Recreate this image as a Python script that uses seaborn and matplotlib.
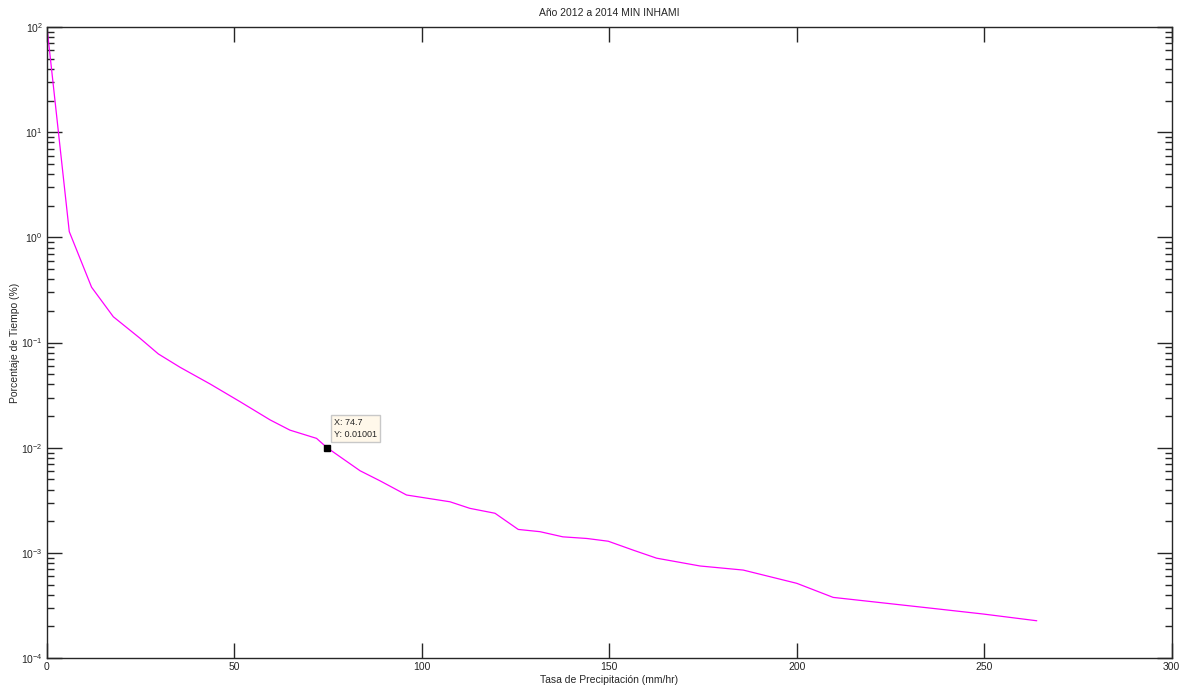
import matplotlib
matplotlib.use("Agg")
import matplotlib.pyplot as plt
from matplotlib.ticker import FixedLocator, LogFormatterSciNotation
import seaborn as sns
import pandas as pd

# Precipitation rate (mm/hr) and percentage of time exceeded
rate = [0, 5.95, 11.9, 17.7, 24.8, 29.7, 35.5, 43.5, 51.5, 59.5, 64.8, 71.9,
        74.7, 83.5, 88.8, 95.9, 107.5, 112.8, 119.5, 125.7, 131.5, 137.6,
        144.0, 149.7, 156.4, 162.6, 174.2, 185.7, 200.0, 209.7, 236.4,
        249.7, 264.0]
pct_time = [100, 1.135, 0.336, 0.176, 0.110, 0.078, 0.0582, 0.0404, 0.0274,
            0.0184, 0.0147, 0.01227, 0.01001, 0.00604, 0.00485, 0.00355,
            0.00306, 0.00265, 0.00238, 0.00167, 0.00159, 0.00142, 0.00137,
            0.00129, 0.00106, 0.00089, 0.00075, 0.000686, 0.000513,
            0.000377, 0.000296, 0.000262, 0.000226]

tip_x = 74.7
tip_y = 0.01001

x_ticks = [0, 50, 100, 150, 200, 250, 300]
y_ticks = [1e-4, 1e-3, 1e-2, 1e-1, 1e0, 1e1, 1e2]

title = "Año 2012 a 2014 MIN INHAMI"
x_label = "Tasa de Precipitación (mm/hr)"
y_label = "Porcentaje de Tiempo (%)"

sns.set_style("ticks")
plt.rcParams["font.family"] = ["Liberation Sans", "DejaVu Sans"]
plt.rcParams["mathtext.fontset"] = "custom"
plt.rcParams["mathtext.rm"] = "Liberation Sans"
plt.rcParams["mathtext.it"] = "Liberation Sans"
plt.rcParams["axes.unicode_minus"] = False

df = pd.DataFrame({"rate": rate, "pct": pct_time})

fig = plt.figure(figsize=(11.92, 6.89), dpi=100)
ax = fig.add_axes([0.0394, 0.045, 0.9436, 0.9156])

sns.lineplot(data=df, x="rate", y="pct", color="#FF00FF", lw=0.9, ax=ax,
             sort=False, estimator=None)

ax.set_yscale("log")
ax.set_xlim(0, 300)
ax.set_ylim(1e-4, 1e2)
ax.xaxis.set_major_locator(FixedLocator(x_ticks))
ax.yaxis.set_major_locator(FixedLocator(y_ticks))
ax.yaxis.set_major_formatter(LogFormatterSciNotation())
minor_y = [m * d for d in y_ticks[:-1] for m in range(2, 10)]
ax.yaxis.set_minor_locator(FixedLocator(minor_y))
ax.yaxis.set_minor_formatter(plt.NullFormatter())

for s in ax.spines.values():
    s.set_visible(True)
    s.set_color("#262626")
    s.set_linewidth(1.0)

ax.tick_params(axis="both", which="major", direction="in", length=11,
               width=1.0, color="#262626", labelsize=7.5, top=True,
               right=True, pad=3)
ax.tick_params(axis="y", which="minor", direction="in", length=5,
               width=1.0, color="#262626", right=True)
ax.tick_params(axis="x", which="minor", bottom=False, top=False)

ax.set_title(title, fontsize=7.5, pad=8)
ax.set_xlabel(x_label, fontsize=7.5, labelpad=2)
ax.set_ylabel(y_label, fontsize=7.5)
ax.yaxis.set_label_coords(-0.024, 0.5)

# data tip
ax.plot([tip_x], [tip_y], marker="s", color="black", ms=5, zorder=5)
ax.annotate(f"X: {tip_x}\nY: {tip_y}", xy=(tip_x, tip_y),
            xytext=(5, 6), textcoords="offset points", fontsize=6.5,
            ha="left", va="bottom", linespacing=1.5,
            bbox=dict(boxstyle="square,pad=0.35", fc="#FFF8EA", ec="#C8C8C8",
                      lw=1.0))

fig.savefig("out.png", dpi=100)
